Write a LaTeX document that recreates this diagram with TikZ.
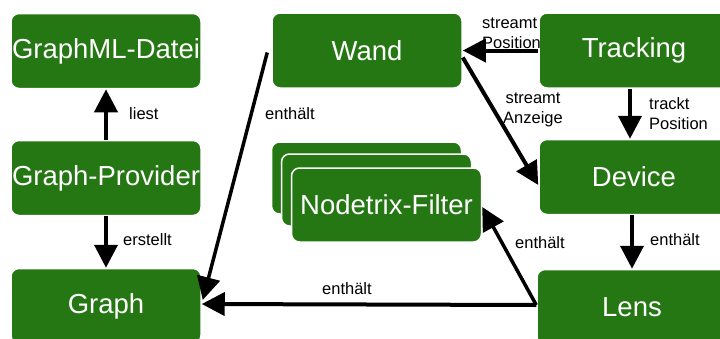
\documentclass[tikz,border=0pt]{standalone}
\usepackage{fontspec}
\setmainfont{Liberation Sans}
\usetikzlibrary{arrows.meta,calc}
\definecolor{boxgreen}{RGB}{37,119,19}
\tikzset{
  box/.style={fill=boxgreen, draw=white, line width=1.5pt, rounded corners=8pt,
    minimum width=190pt, minimum height=75pt, inner sep=0pt, text=white,
    font=\fontsize{27.5}{31}\selectfont},
  conn/.style={line width=4pt, -{Triangle[length=23pt,width=23pt]}},
  lbl/.style={font=\fontsize{16.5}{20}\selectfont, inner sep=0pt, anchor=west, align=left}
}
\begin{document}
\begin{tikzpicture}[x=1pt,y=-1pt]
\useasboundingbox (0,0) rectangle (720,338);
\clip (0,0) rectangle (720,338);
\node[box] (gml) at (106,51) {GraphML-Datei};
\node[box] (prov) at (106,178) {Graph-Provider};
\node[box] (graph) at (106,306) {Graph};
\node[box] (wand) at (367,50.5) {Wand};
\node[box] (track) at (634,50.5) {Tracking};
\node[box] (dev) at (634,177) {Device};
\node[box] (lens) at (632,307) {Lens};
\node[box, minimum height=72pt] (nf3) at (366.5,178) {};
\node[box, minimum height=72pt] (nf2) at (376.5,190) {};
\node[box, minimum height=74pt] (nf) at (386.5,205) {Nodetrix-Filter};

\draw[conn] (prov.north) -- (gml.south);
\draw[conn] (prov.south) -- (graph.north);
\draw[conn] (track.west) -- (wand.east);
\draw[conn] ([yshift=-7pt]wand.east) -- ([yshift=-8pt]dev.west);
\draw[conn] ([xshift=-4pt]track.south) -- ([xshift=-4pt]dev.north);
\draw[conn] ([xshift=-2pt]dev.south) -- (lens.north);
\draw[conn, line width=3.5pt] ([xshift=-4pt,yshift=-2pt]wand.west) -- ([xshift=1pt,yshift=6pt]graph.east);
\draw[conn] ([yshift=2pt]lens.west) -- ([yshift=2pt]graph.east);
\draw[conn, line width=3.5pt] ([yshift=2pt]lens.west) -- ([yshift=-2pt]nf.east);

\node[lbl] (l1) at (129,114) {liest};
\node[lbl] (l2) at (123,240) {erstellt};
\node[lbl] (l3) at (265,114) {enthält};
\node[lbl] (l4) at (482,33) {streamt\\Position};
\node[lbl, align=center, anchor=center] (l5) at (533,110) {streamt\\Anzeige};
\node[lbl] (l6) at (649,114) {trackt\\Position};
\node[lbl] (l7) at (650,240) {enthält};
\node[lbl] (l8) at (515,243) {enthält};
\node[lbl] (l9) at (322,289) {enthält};
\end{tikzpicture}
\end{document}
